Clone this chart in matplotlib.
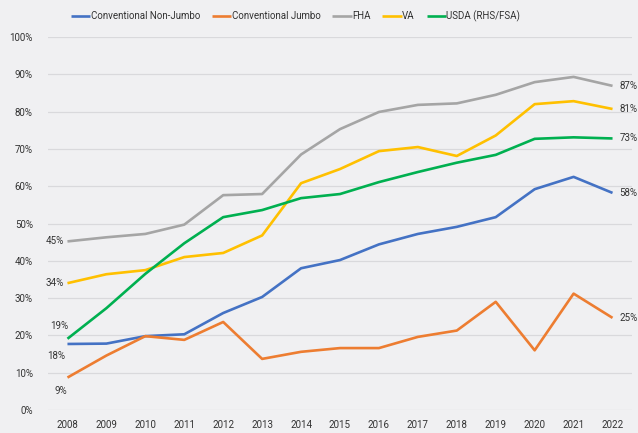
import matplotlib.pyplot as plt

years = list(range(2008, 2023))

non_jumbo = [17.7, 17.8, 19.8, 20.3, 26.0, 30.3, 38.0, 40.2, 44.4, 47.2, 49.1, 51.7, 59.2, 62.5, 58.2]
jumbo = [8.7, 14.6, 19.8, 18.8, 23.6, 13.7, 15.6, 16.6, 16.6, 19.6, 21.3, 29.0, 16.0, 31.2, 24.7]
fha = [45.2, 46.3, 47.2, 49.7, 57.6, 57.9, 68.5, 75.3, 79.9, 81.8, 82.2, 84.5, 87.9, 89.3, 86.9]
va = [34.0, 36.4, 37.5, 41.0, 42.1, 46.8, 60.8, 64.6, 69.4, 70.5, 68.1, 73.6, 82.0, 82.8, 80.7]
usda = [19.1, 27.3, 36.5, 44.7, 51.7, 53.6, 56.8, 57.9, 61.1, 63.8, 66.3, 68.4, 72.7, 73.1, 72.8]

names = ['Conventional Non-Jumbo', 'Conventional Jumbo', 'FHA', 'VA', 'USDA (RHS/FSA)']
colors = ['#4472c4', '#ed7d31', '#a5a5a5', '#ffc000', '#00b050']
series = [non_jumbo, jumbo, fha, va, usda]

plt.rcParams['font.family'] = 'Roboto'
txt = '#333333'
bg = '#f0f0f2'
fs = 7

fig = plt.figure(figsize=(6.38, 4.33), dpi=100, facecolor=bg)
ax = fig.add_axes([48 / 638, 23 / 433, 584 / 638, 373 / 433], facecolor=bg)

for s, n, c in zip(series, names, colors):
    ax.plot(years, s, color=c, lw=1.9, label=n, solid_capstyle='butt')

ax.set_xlim(2007.5, 2022.5)
ax.set_ylim(0, 100)
ax.set_yticks(range(0, 101, 10))
ax.set_yticklabels([f'{v}%' for v in range(0, 101, 10)])
ax.set_xticks(years)
ax.grid(axis='y', color='#d9d9dc', lw=0.9)
ax.set_axisbelow(True)
for sp in ax.spines.values():
    sp.set_visible(False)
ax.tick_params(length=0, colors=txt, labelsize=fs)
ax.tick_params(axis='y', pad=11)
ax.tick_params(axis='x', pad=7)

# etiquetas de inicio
start = [(fha[0], '45%', -0.1, 0),
         (va[0], '34%', -0.1, 0),
         (usda[0], '19%', 0.02, 3.3),
         (non_jumbo[0], '18%', -0.05, -3.3),
         (jumbo[0], '9%', 0.0, -3.5)]
for v, t, dx, dy in start:
    ax.text(2008 + dx, v + dy, t, ha='right', va='center', fontsize=fs, color=txt)

# etiquetas finales
for s in series:
    ax.text(2022.18, s[-1], f'{round(s[-1])}%', ha='left', va='center', fontsize=fs, color=txt)

leg = fig.legend(loc='center left', bbox_to_anchor=(62 / 638, 1 - 16 / 433), ncol=5, frameon=False,
                 fontsize=fs, handlelength=2.0, handletextpad=0.05, columnspacing=1.2)
for t in leg.get_texts():
    t.set_color(txt)

fig.savefig('out.png', dpi=100, facecolor=bg)
